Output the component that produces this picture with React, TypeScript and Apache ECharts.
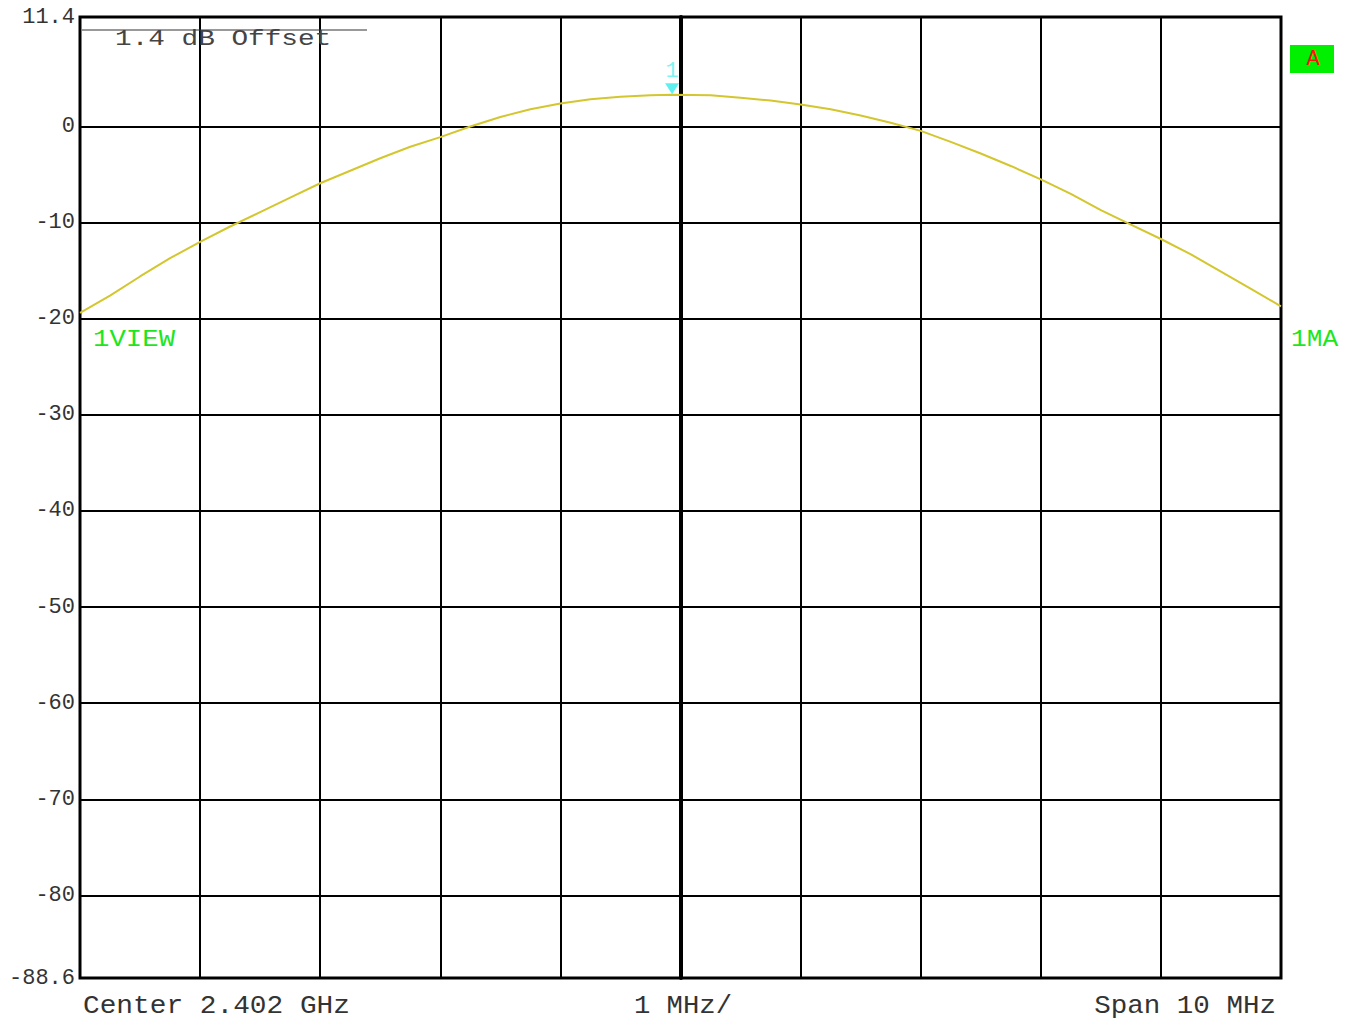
import React, { useEffect, useRef } from "react";
import * as echarts from "echarts";

// Frequency offset from center (MHz) and level (dB)
const freqOffsets = [
  -5.0, -4.75, -4.5, -4.25, -4.0, -3.75, -3.5, -3.25, -3.0, -2.75, -2.5, -2.25, -2.0, -1.75, -1.5, -1.25,
  -1.0, -0.75, -0.5, -0.25, -0.07, 0.25, 0.5, 0.75, 1.0, 1.25, 1.5, 1.75, 2.0, 2.25, 2.5, 2.75, 3.0, 3.25,
  3.5, 3.75, 4.0, 4.25, 4.5, 4.75, 5.0,
];
const levels = [
  -19.4, -17.6, -15.6, -13.7, -12.0, -10.4, -8.9, -7.4, -5.9, -4.6, -3.3, -2.1, -1.1, 0.0, 1.0, 1.8,
  2.4, 2.85, 3.1, 3.25, 3.3, 3.25, 3.0, 2.7, 2.3, 1.8, 1.15, 0.4, -0.45, -1.6, -2.8, -4.1, -5.5, -7.0,
  -8.7, -10.2, -11.7, -13.3, -15.1, -16.9, -18.7,
];
const yTickValues = [11.4, 0, -10, -20, -30, -40, -50, -60, -70, -80, -88.6];
const yGridValues = [0, -10, -20, -30, -40, -50, -60, -70, -80];
const markerPoint = [-0.07, 3.3];
const yMin = -88.6;
const yMax = 11.4;
const xMin = -5;
const xMax = 5;

const MONO = "'Liberation Mono', 'DejaVu Sans Mono', monospace";

export default function App() {
  const ref = useRef<HTMLDivElement>(null);
  useEffect(() => {
    if (!ref.current) return;
    const chart = echarts.init(ref.current, undefined, { renderer: "svg" });
    const data = freqOffsets.map((f, i) => [f, levels[i]]);
    chart.setOption({
      animation: false,
      backgroundColor: "#ffffff",
      grid: {
        left: 80,
        top: 17,
        right: 70,
        bottom: 46,
        show: true,
        borderColor: "#000",
        borderWidth: 3,
        backgroundColor: "transparent",
      },
      xAxis: {
        type: "value",
        min: xMin,
        max: xMax,
        interval: 1,
        axisLine: { show: false },
        axisTick: { show: false },
        axisLabel: { show: false },
        splitLine: { show: true, lineStyle: { color: "#000", width: 2 } },
      },
      yAxis: {
        type: "value",
        min: yMin,
        max: yMax,
        axisLine: { show: true, lineStyle: { color: "#000", width: 4 } },
        axisTick: { show: false, customValues: yTickValues },
        axisLabel: {
          show: true,
          customValues: yTickValues,
          color: "#333",
          fontFamily: MONO,
          fontSize: 22,
          margin: 5,
          formatter: (v: number) => String(v),
        },
        splitLine: { show: false },
      },
      series: [
        {
          type: "line",
          data,
          showSymbol: false,
          symbol: "none",
          lineStyle: { color: "#d4c62e", width: 2 },
          z: 5,
          markLine: {
            silent: true,
            symbol: "none",
            label: { show: false },
            lineStyle: { color: "#000", width: 2, type: "solid" },
            data: [
              ...yGridValues.map((v) => ({ yAxis: v })),
              { xAxis: 0, lineStyle: { color: "#000", width: 4, type: "solid" } },
            ],
            z: 1,
          },
          markPoint: {
            silent: true,
            data: [
              {
                coord: markerPoint,
                symbol: "triangle",
                symbolRotate: 180,
                symbolSize: [14, 11],
                symbolOffset: [0, -6],
                itemStyle: { color: "#5ef0f0" },
                label: {
                  show: true,
                  formatter: "1",
                  position: "top",
                  distance: 1,
                  color: "#7ff4f4",
                  fontFamily: MONO,
                  fontSize: 22,
                },
              },
            ],
          },
        },
      ],
      graphic: [
        {
          type: "line",
          shape: { x1: 82, y1: 30, x2: 367, y2: 30 },
          style: { stroke: "#333", lineWidth: 1 },
          z: 10,
        },
        {
          type: "text",
          x: 115,
          y: 39,
          scaleX: 1.26,
          style: { text: "1.4 dB Offset", fill: "#444", font: `22px ${MONO}`, verticalAlign: "middle" },
          z: 10,
        },
        {
          type: "text",
          x: 93,
          y: 340,
          scaleX: 1.14,
          style: { text: "1VIEW", fill: "#1ee61e", font: `24px ${MONO}`, verticalAlign: "middle" },
        },
        {
          type: "text",
          x: 1291,
          y: 340,
          scaleX: 1.09,
          style: { text: "1MA", fill: "#1ee61e", font: `24px ${MONO}`, verticalAlign: "middle" },
        },
        {
          type: "rect",
          shape: { x: 1290, y: 45, width: 44, height: 28 },
          style: { fill: "#00f000" },
        },
        {
          type: "text",
          x: 1313,
          y: 59,
          style: {
            text: "A",
            fill: "#ff1010",
            font: `22px ${MONO}`,
            align: "center",
            verticalAlign: "middle",
          },
        },
        {
          type: "text",
          x: 83,
          y: 1006,
          scaleX: 1.07,
          style: { text: "Center 2.402 GHz", fill: "#333", font: `26px ${MONO}`, verticalAlign: "middle" },
        },
        {
          type: "text",
          x: 683,
          y: 1006,
          scaleX: 1.05,
          style: {
            text: "1 MHz/",
            fill: "#333",
            font: `26px ${MONO}`,
            align: "center",
            verticalAlign: "middle",
          },
        },
        {
          type: "text",
          x: 1276,
          y: 1006,
          scaleX: 1.06,
          style: {
            text: "Span 10 MHz",
            fill: "#333",
            font: `26px ${MONO}`,
            align: "right",
            verticalAlign: "middle",
          },
        },
      ],
    });
    return () => chart.dispose();
  }, []);
  return (
    <div
      ref={ref}
      style={{ position: "fixed", left: 0, top: 0, width: 1351, height: 1024, background: "#fff" }}
    />
  );
}
